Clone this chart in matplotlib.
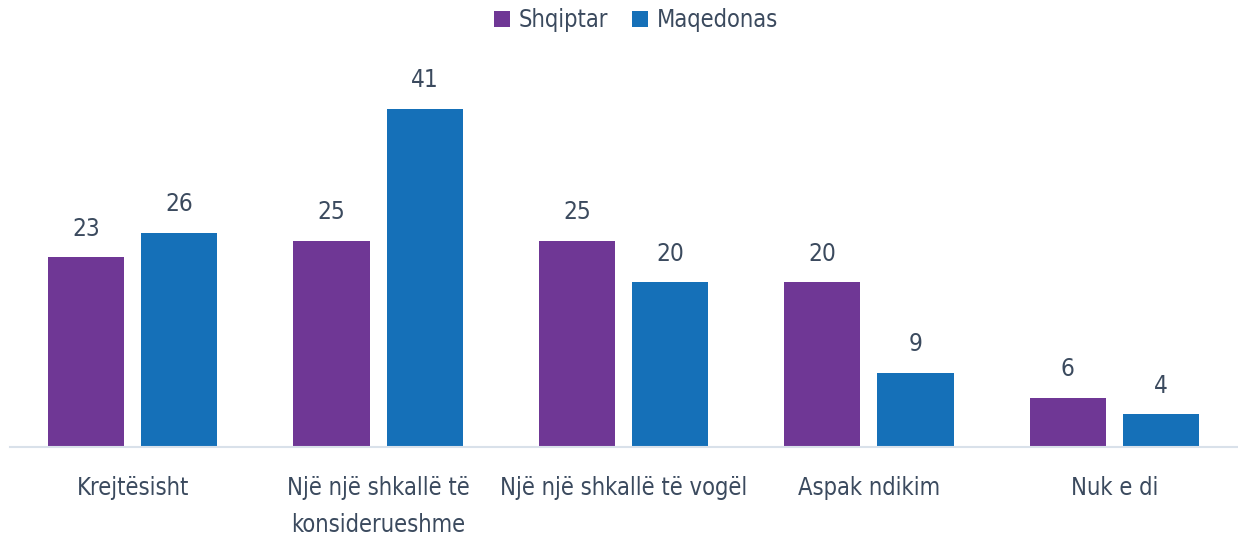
import matplotlib
matplotlib.use("Agg")
import matplotlib.pyplot as plt
import numpy as np

categories = ["Krejtësisht", "Një një shkallë të\nkonsiderueshme", "Një një shkallë të vogël",
              "Aspak ndikim", "Nuk e di"]
series_names = ["Shqiptar", "Maqedonas"]
shqiptar = [23, 25, 25, 20, 6]
maqedonas = [26, 41, 20, 9, 4]

plt.rcParams["font.family"] = ["DejaVu Sans"]
plt.rcParams["font.stretch"] = "condensed"
text_color = "#3b4a5e"
colors = ["#6f3795", "#1570b8"]

W, H = 1238, 544
fig = plt.figure(figsize=(W / 100, H / 100), dpi=100)
ax = fig.add_axes([10 / W, 97 / H, 1227 / W, 371 / H])

x = np.arange(len(categories))
offset = 0.19
width = 0.31
for vals, name, c, sgn in zip([shqiptar, maqedonas], series_names, colors, [-1, 1]):
    bars = ax.bar(x + sgn * offset, vals, width, color=c, label=name)
    for b, v in zip(bars, vals):
        ax.text(b.get_x() + b.get_width() / 2, v + 2.0, str(v), ha="center", va="bottom",
                fontsize=17.5, color=text_color)

ax.set_xlim(-0.5, len(categories) - 0.5)
ax.set_ylim(0, 45)
ax.set_yticks([])
ax.set_xticks(x)
ax.set_xticklabels(categories, fontsize=17, color=text_color, linespacing=1.65)
ax.tick_params(axis="x", length=0, pad=21)
for s in ["top", "right", "left"]:
    ax.spines[s].set_visible(False)
ax.spines["bottom"].set_color("#d9e1ea")
ax.spines["bottom"].set_linewidth(1.5)

leg = ax.legend(loc="upper center", bbox_to_anchor=(0.51, 1.24), ncol=2, frameon=False,
                fontsize=17, handlelength=0.7, handleheight=0.7, handletextpad=0.35,
                columnspacing=1.0)
for t in leg.get_texts():
    t.set_color(text_color)

fig.savefig("out.png", dpi=100)
